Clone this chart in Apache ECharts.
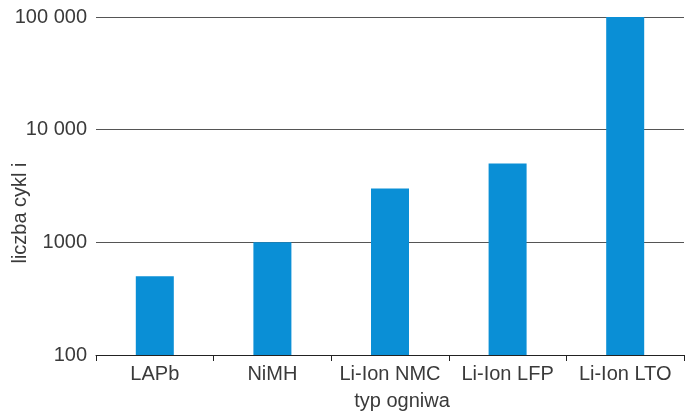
<!DOCTYPE html>
<html>
<head>
<meta charset="utf-8">
<script src="https://cdn.jsdelivr.net/npm/echarts@6/dist/echarts.min.js"></script>
<style>html,body{margin:0;padding:0;background:#fff;}#c{width:700px;height:419px;}</style>
</head>
<body>
<div id="c"></div>
<script>
const categories = ['LAPb', 'NiMH', 'Li-Ion NMC', 'Li-Ion LFP', 'Li-Ion LTO'];
const cycles = [500, 1000, 3000, 5000, 100000];
const yTicks = [100, 1000, 10000, 100000];
const yAxisName = 'liczba cykl i';
const xAxisName = 'typ ogniwa';

function fmt(v) {
  if (v >= 10000) {
    return String(v).replace(/\B(?=(\d{3})+(?!\d))/g, ' ');
  }
  return String(v);
}

const chart = echarts.init(document.getElementById('c'), null, {renderer: 'canvas'});
const font = 'Liberation Sans, Arial, sans-serif';
chart.setOption({
  animation: false,
  backgroundColor: '#fff',
  grid: {left: 96, right: 16, top: 17, bottom: 64, containLabel: false, outerBoundsMode: 'none'},
  xAxis: {
    type: 'category',
    data: categories,
    name: xAxisName,
    nameLocation: 'middle',
    nameGap: 36,
    nameMoveOverlap: false,
    nameTextStyle: {fontFamily: font, fontSize: 20, color: '#3a3a3a', padding: [0, 0, 0, 24]},
    axisLine: {lineStyle: {color: '#222', width: 1}},
    axisTick: {show: true, interval: 0, length: 6, lineStyle: {color: '#222'}},
    axisLabel: {interval: 0, fontFamily: font, fontSize: 20, color: '#3a3a3a', margin: 9}
  },
  yAxis: {
    type: 'log',
    logBase: 10,
    min: 100,
    max: 100000,
    name: yAxisName,
    nameLocation: 'middle',
    nameGap: 66,
    nameRotate: 90,
    nameMoveOverlap: false,
    nameTextStyle: {fontFamily: font, fontSize: 20, color: '#3a3a3a', padding: [0, 54, 0, 0]},
    axisLine: {show: false},
    axisTick: {show: false},
    splitLine: {show: true, lineStyle: {color: '#555', width: 1}},
    axisLabel: {fontFamily: font, fontSize: 20, color: '#3a3a3a', margin: 9, formatter: fmt}
  },
  series: [{
    type: 'bar',
    data: cycles,
    barWidth: 38,
    itemStyle: {color: '#0a8fd6'}
  }]
});
</script>
</body>
</html>
